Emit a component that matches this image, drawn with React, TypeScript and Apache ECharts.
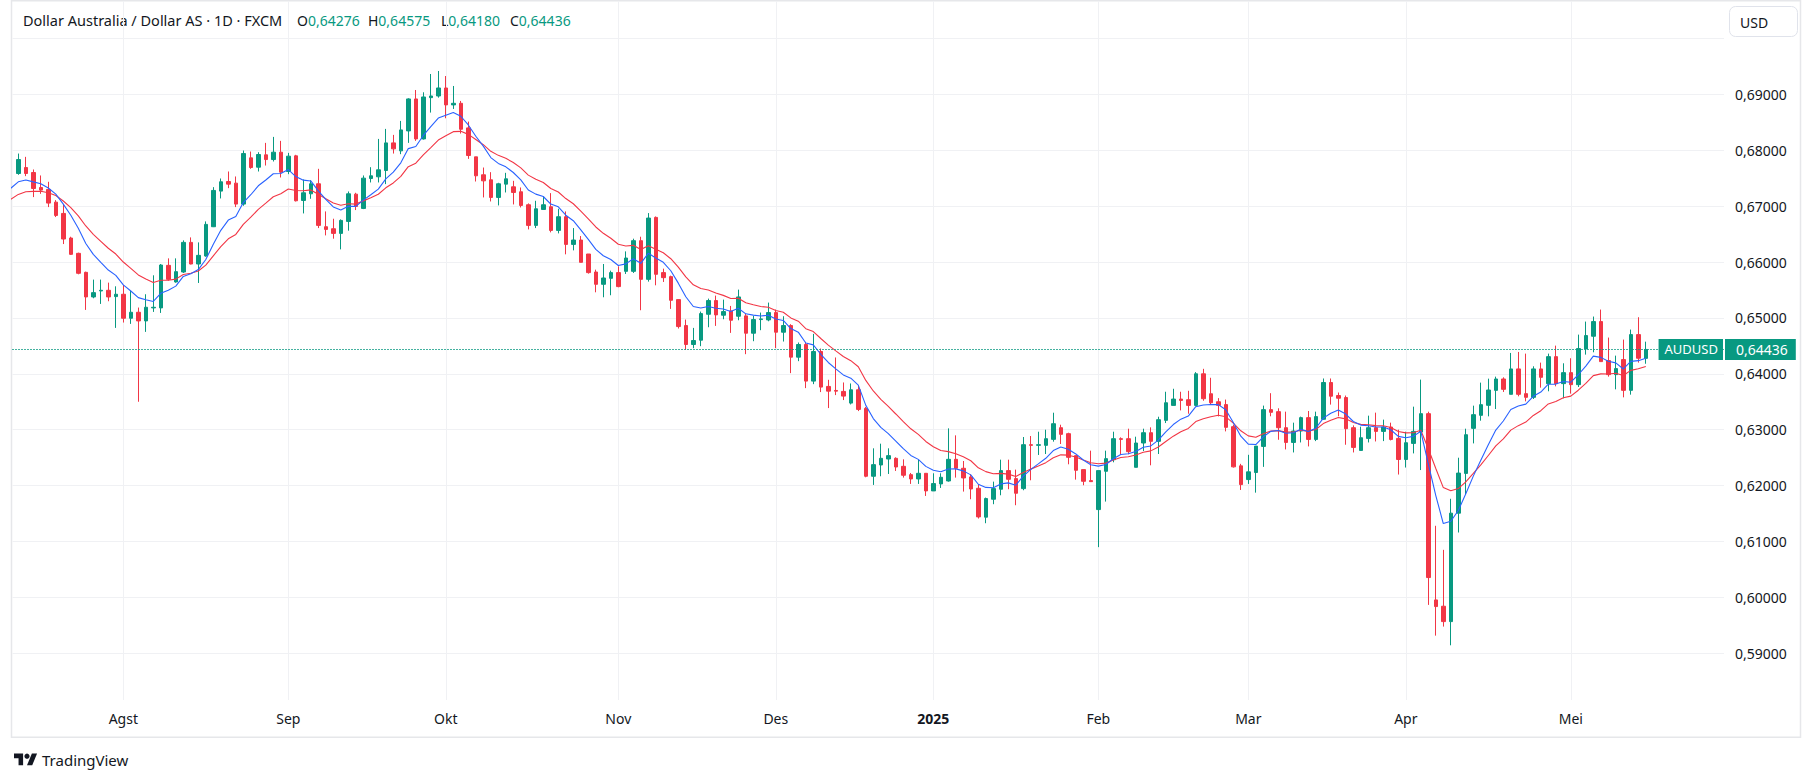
import React, { useEffect, useRef } from 'react';
import * as echarts from 'echarts';

// ---------------- data ----------------
const tradingDays: [string, number[]][] = [
  ['2024-07', [12, 15, 16, 17, 18, 19, 22, 23, 24, 25, 26, 29, 30, 31]],
  ['2024-08', [1, 2, 5, 6, 7, 8, 9, 12, 13, 14, 15, 16, 19, 20, 21, 22, 23, 26, 27, 28, 29, 30]],
  ['2024-09', [2, 3, 4, 5, 6, 9, 10, 11, 12, 13, 16, 17, 18, 19, 20, 23, 24, 25, 26, 27, 30]],
  ['2024-10', [1, 2, 3, 4, 7, 8, 9, 10, 11, 14, 15, 16, 17, 18, 21, 22, 23, 24, 25, 28, 29, 30, 31]],
  ['2024-11', [1, 4, 5, 6, 7, 8, 11, 12, 13, 14, 15, 18, 19, 20, 21, 22, 25, 26, 27, 28, 29]],
  ['2024-12', [2, 3, 4, 5, 6, 9, 10, 11, 12, 13, 16, 17, 18, 19, 20, 23, 24, 26, 27, 30, 31]],
  ['2025-01', [2, 3, 6, 7, 8, 9, 10, 13, 14, 15, 16, 17, 20, 21, 22, 23, 24, 27, 28, 29, 30, 31]],
  ['2025-02', [3, 4, 5, 6, 7, 10, 11, 12, 13, 14, 17, 18, 19, 20, 21, 24, 25, 26, 27, 28]],
  ['2025-03', [3, 4, 5, 6, 7, 10, 11, 12, 13, 14, 17, 18, 19, 20, 21, 24, 25, 26, 27, 28, 31]],
  ['2025-04', [1, 2, 3, 4, 7, 8, 9, 10, 11, 14, 15, 16, 17, 18, 21, 22, 23, 24, 25, 28, 29, 30]],
  ['2025-05', [1, 2, 5, 6, 7, 8, 9, 12, 13, 14, 15]],
];

const opens = [
  0.67583, 0.67690, 0.67601, 0.67333, 0.67298, 0.67071, 0.66869, 0.66429, 0.66155, 0.65815,
  0.65375, 0.65482, 0.65494, 0.65381, 0.65423, 0.64994, 0.65101, 0.64946, 0.65179, 0.65179,
  0.65940, 0.65643, 0.65821, 0.66351, 0.65964, 0.66107, 0.66631, 0.67268, 0.67440, 0.67411,
  0.67036, 0.67863, 0.67696, 0.67917, 0.67833, 0.67964, 0.67619, 0.67899, 0.67101, 0.67220,
  0.67399, 0.66631, 0.66595, 0.66512, 0.66726, 0.67214, 0.66958, 0.67494, 0.67524, 0.67637,
  0.68131, 0.67988, 0.68345, 0.68917, 0.68202, 0.68940, 0.68970, 0.69113, 0.68810, 0.68839,
  0.68399, 0.67881, 0.67560, 0.67470, 0.67155, 0.67393, 0.67345, 0.67256, 0.67024, 0.66655,
  0.66940, 0.66988, 0.66565, 0.66810, 0.66315, 0.66393, 0.66143, 0.65821, 0.65601, 0.65708,
  0.65810, 0.65833, 0.65833, 0.66381, 0.65690, 0.66798, 0.65810, 0.65738, 0.65327, 0.64863,
  0.64524, 0.64601, 0.65065, 0.65310, 0.65048, 0.65125, 0.65030, 0.65036, 0.64726, 0.64970,
  0.64964, 0.65095, 0.64744, 0.64863, 0.64298, 0.64524, 0.63869, 0.64399, 0.63774, 0.63702,
  0.63685, 0.63476, 0.63714, 0.63381, 0.62167, 0.62369, 0.62476, 0.62488, 0.62345, 0.62196,
  0.62119, 0.62220, 0.61905, 0.62030, 0.62083, 0.62470, 0.62310, 0.62155, 0.61952, 0.61435,
  0.61756, 0.61935, 0.62268, 0.62125, 0.61946, 0.62732, 0.62720, 0.62720, 0.62827, 0.63036,
  0.62929, 0.62536, 0.62286, 0.62089, 0.61571, 0.62256, 0.62464, 0.62839, 0.62839, 0.62327,
  0.62762, 0.62946, 0.62792, 0.63167, 0.63435, 0.63548, 0.63536, 0.63435, 0.64000, 0.63643,
  0.63500, 0.63449, 0.63054, 0.62353, 0.62108, 0.62234, 0.62701, 0.63359, 0.63323, 0.63036,
  0.62772, 0.62976, 0.63216, 0.62826, 0.63186, 0.63844, 0.63611, 0.63575, 0.63036, 0.62629,
  0.62844, 0.63036, 0.62970, 0.63048, 0.62844, 0.62467, 0.62755, 0.62958, 0.63287, 0.59955,
  0.59842, 0.59567, 0.61507, 0.62218, 0.63024, 0.63257, 0.63436, 0.63704, 0.63907, 0.63633,
  0.64087, 0.63645, 0.63579, 0.64087, 0.63824, 0.64307, 0.63824, 0.64021, 0.63806, 0.64445,
  0.64672, 0.64934, 0.64236, 0.63985, 0.64254, 0.63704, 0.64701, 0.64276,
];

const highs = [
  0.67940, 0.67881, 0.67655, 0.67548, 0.67435, 0.67107, 0.67036, 0.66452, 0.66167, 0.65827,
  0.65685, 0.65685, 0.65631, 0.65565, 0.65589, 0.65482, 0.65185, 0.65423, 0.65762, 0.65964,
  0.66065, 0.66065, 0.66387, 0.66440, 0.66351, 0.66726, 0.67339, 0.67494, 0.67619, 0.67530,
  0.67994, 0.67976, 0.67964, 0.68131, 0.68238, 0.68167, 0.67952, 0.67917, 0.67476, 0.67464,
  0.67667, 0.66905, 0.66774, 0.66762, 0.67262, 0.67238, 0.67548, 0.67696, 0.68202, 0.68381,
  0.68274, 0.68524, 0.68929, 0.69077, 0.69036, 0.69363, 0.69417, 0.69327, 0.69149, 0.68881,
  0.68512, 0.67881, 0.67690, 0.67607, 0.67417, 0.67595, 0.67452, 0.67333, 0.67048, 0.67095,
  0.67167, 0.67232, 0.66952, 0.66905, 0.66607, 0.66464, 0.66143, 0.65863, 0.65964, 0.65845,
  0.65923, 0.66190, 0.66417, 0.66452, 0.66875, 0.66815, 0.65881, 0.65756, 0.65327, 0.64970,
  0.64821, 0.65113, 0.65345, 0.65399, 0.65327, 0.65214, 0.65506, 0.65071, 0.65036, 0.65095,
  0.65274, 0.65149, 0.65030, 0.64887, 0.64560, 0.64571, 0.64714, 0.64452, 0.63893, 0.64292,
  0.63845, 0.63827, 0.63792, 0.63405, 0.62667, 0.62750, 0.62667, 0.62506, 0.62470, 0.62226,
  0.62458, 0.62220, 0.62220, 0.62220, 0.63024, 0.62899, 0.62440, 0.62202, 0.62024, 0.61786,
  0.62071, 0.62464, 0.62464, 0.62286, 0.62869, 0.62887, 0.62964, 0.63000, 0.63304, 0.63089,
  0.62946, 0.62536, 0.62286, 0.62625, 0.62268, 0.62625, 0.62964, 0.62863, 0.63018, 0.62875,
  0.63018, 0.63042, 0.63232, 0.63679, 0.63732, 0.63679, 0.63696, 0.64030, 0.64089, 0.63929,
  0.63565, 0.63539, 0.63090, 0.62389, 0.62551, 0.62707, 0.63431, 0.63653, 0.63383, 0.63323,
  0.63126, 0.63234, 0.63335, 0.63323, 0.63916, 0.63916, 0.63665, 0.63611, 0.63078, 0.63054,
  0.63251, 0.63305, 0.63180, 0.63126, 0.63000, 0.62964, 0.63412, 0.63896, 0.63322, 0.61281,
  0.60851, 0.61764, 0.62499, 0.63018, 0.63430, 0.63842, 0.63913, 0.63949, 0.63937, 0.64373,
  0.64391, 0.64361, 0.64134, 0.64200, 0.64361, 0.64504, 0.64188, 0.64278, 0.64701, 0.64934,
  0.65024, 0.65149, 0.64648, 0.64325, 0.64612, 0.64791, 0.65012, 0.64575,
];

const lows = [
  0.67560, 0.67536, 0.67161, 0.67220, 0.66982, 0.66804, 0.66321, 0.66125, 0.65780, 0.65143,
  0.65351, 0.65250, 0.65298, 0.64821, 0.64917, 0.64893, 0.63500, 0.64750, 0.65107, 0.65089,
  0.65667, 0.65631, 0.65804, 0.65958, 0.65625, 0.66095, 0.66625, 0.67137, 0.67321, 0.66982,
  0.67006, 0.67667, 0.67619, 0.67726, 0.67798, 0.67512, 0.67571, 0.67083, 0.66869, 0.67131,
  0.66607, 0.66476, 0.66417, 0.66226, 0.66560, 0.66929, 0.66946, 0.67423, 0.67423, 0.67393,
  0.67940, 0.67929, 0.68131, 0.68167, 0.68190, 0.68673, 0.68940, 0.68571, 0.68738, 0.68298,
  0.67845, 0.67440, 0.67155, 0.67083, 0.67012, 0.67244, 0.67030, 0.66976, 0.66583, 0.66607,
  0.66940, 0.66530, 0.66512, 0.66137, 0.66208, 0.65994, 0.65792, 0.65458, 0.65369, 0.65405,
  0.65548, 0.65786, 0.65804, 0.65137, 0.65649, 0.65583, 0.65643, 0.65161, 0.64810, 0.64429,
  0.64458, 0.64494, 0.64833, 0.64857, 0.64976, 0.64732, 0.64958, 0.64351, 0.64583, 0.64780,
  0.64940, 0.64458, 0.64577, 0.64012, 0.64226, 0.63744, 0.63815, 0.63673, 0.63387, 0.63619,
  0.63530, 0.63452, 0.63333, 0.62149, 0.62012, 0.62167, 0.62208, 0.62262, 0.62143, 0.62030,
  0.62030, 0.61815, 0.61905, 0.61958, 0.62071, 0.62143, 0.61893, 0.61756, 0.61411, 0.61327,
  0.61667, 0.61827, 0.61935, 0.61649, 0.61917, 0.62095, 0.62548, 0.62565, 0.62786, 0.62744,
  0.62381, 0.62107, 0.62006, 0.62071, 0.60899, 0.61714, 0.62417, 0.62548, 0.62560, 0.62327,
  0.62619, 0.62363, 0.62565, 0.63119, 0.63435, 0.63345, 0.63286, 0.63417, 0.63518, 0.63452,
  0.63238, 0.62970, 0.62323, 0.61922, 0.62030, 0.61874, 0.62335, 0.63240, 0.62820, 0.62647,
  0.62593, 0.62772, 0.62701, 0.62796, 0.63180, 0.63449, 0.63240, 0.62731, 0.62593, 0.62629,
  0.62772, 0.62790, 0.62796, 0.62808, 0.62198, 0.62323, 0.62576, 0.62278, 0.59866, 0.59316,
  0.59478, 0.59143, 0.61161, 0.61836, 0.62755, 0.63161, 0.63239, 0.63370, 0.63675, 0.63633,
  0.63597, 0.63507, 0.63549, 0.63752, 0.63687, 0.63776, 0.63561, 0.63645, 0.63764, 0.64343,
  0.64385, 0.64218, 0.63949, 0.63722, 0.63579, 0.63627, 0.64200, 0.64180,
];

const closes = [
  0.67833, 0.67583, 0.67315, 0.67286, 0.67054, 0.66833, 0.66411, 0.66137, 0.65798, 0.65375,
  0.65452, 0.65494, 0.65375, 0.65423, 0.64994, 0.65101, 0.64946, 0.65190, 0.65190, 0.65946,
  0.65690, 0.65827, 0.66351, 0.65964, 0.66119, 0.66673, 0.67280, 0.67435, 0.67393, 0.67036,
  0.67940, 0.67690, 0.67923, 0.67833, 0.67964, 0.67607, 0.67893, 0.67095, 0.67238, 0.67399,
  0.66655, 0.66583, 0.66512, 0.66744, 0.67220, 0.66994, 0.67500, 0.67542, 0.67649, 0.68131,
  0.68024, 0.68363, 0.68917, 0.68202, 0.68952, 0.68970, 0.69113, 0.68810, 0.68839, 0.68375,
  0.67905, 0.67542, 0.67452, 0.67155, 0.67399, 0.67488, 0.67244, 0.67012, 0.66655, 0.66952,
  0.67024, 0.66565, 0.66810, 0.66315, 0.66393, 0.65994, 0.65810, 0.65601, 0.65714, 0.65810,
  0.65560, 0.66071, 0.66381, 0.65690, 0.66786, 0.65780, 0.65720, 0.65315, 0.64845, 0.64524,
  0.64595, 0.65077, 0.65310, 0.65054, 0.65113, 0.64958, 0.65375, 0.64726, 0.64970, 0.64982,
  0.65095, 0.64744, 0.64863, 0.64298, 0.64524, 0.63869, 0.64399, 0.63762, 0.63690, 0.63690,
  0.63601, 0.63714, 0.63363, 0.62167, 0.62375, 0.62488, 0.62536, 0.62333, 0.62185, 0.62119,
  0.62220, 0.61905, 0.62036, 0.62149, 0.62470, 0.62310, 0.62137, 0.61940, 0.61440, 0.61768,
  0.61946, 0.62268, 0.62113, 0.61863, 0.62732, 0.62720, 0.62732, 0.62839, 0.63107, 0.62917,
  0.62506, 0.62274, 0.62077, 0.62071, 0.62268, 0.62482, 0.62839, 0.62827, 0.62607, 0.62762,
  0.62946, 0.62792, 0.63179, 0.63482, 0.63548, 0.63524, 0.63435, 0.64000, 0.63554, 0.63482,
  0.63435, 0.63042, 0.62335, 0.62018, 0.62246, 0.62707, 0.63359, 0.63311, 0.63036, 0.62772,
  0.62976, 0.63216, 0.62826, 0.63234, 0.63844, 0.63599, 0.63563, 0.63018, 0.62683, 0.62856,
  0.63036, 0.62970, 0.63048, 0.62826, 0.62467, 0.62767, 0.62970, 0.63287, 0.60355, 0.59836,
  0.59567, 0.61507, 0.62224, 0.62910, 0.63269, 0.63448, 0.63710, 0.63907, 0.63722, 0.64087,
  0.63633, 0.63579, 0.64087, 0.63937, 0.64307, 0.63824, 0.64021, 0.63806, 0.64451, 0.64684,
  0.64934, 0.64218, 0.63985, 0.64093, 0.63704, 0.64701, 0.64278, 0.64436,
];

const priceGridValues = [0.59, 0.6, 0.61, 0.62, 0.63, 0.64, 0.65, 0.66, 0.67, 0.68, 0.69, 0.7];
const priceLabelValues = [0.59, 0.6, 0.61, 0.62, 0.63, 0.64, 0.65, 0.66, 0.67, 0.68, 0.69];
const monthShort: Record<string, string> = {
  '01': 'Jan', '02': 'Feb', '03': 'Mar', '04': 'Apr', '05': 'Mei', '06': 'Jun',
  '07': 'Jul', '08': 'Agst', '09': 'Sep', '10': 'Okt', '11': 'Nov', '12': 'Des',
};
const symbolName = 'AUDUSD';
const titleText = 'Dollar Australia / Dollar AS · 1D · FXCM';
const ohlcKeys = ['O', 'H', 'L', 'C'];
const currencyText = 'USD';
const brandText = 'TradingView';

// moving averages: period and the indicator value on the day before the first candle
const emaFast = { period: 8, prev: 0.6732 };
const emaSlow = { period: 15, prev: 0.6712 };

// ---------------- styling / layout ----------------
const W = 1813;
const H = 782;
const FONT = "'Noto Sans', 'DejaVu Sans', sans-serif";
const UP = '#089981';
const DOWN = '#F23645';
const BLUE = '#2962FF';
const TEXT = '#131722';
const GRID = '#F0F1F4';
const FRAME = '#E6E7EA';
const PANE_LEFT = 12.5;
const PANE_RIGHT = 1724;
const PANE_TOP = 1;
const PANE_BOTTOM = 700;
const BAR_STEP = 7.5; // px between candles
const FIRST_BAR_X = 18.3; // px of first candle
const PX_PER_UNIT = 5590; // px per 1.0 price
const REF_PRICE = 0.59;
const REF_PRICE_Y = 653.3;

const xMin = 1 + (PANE_LEFT - FIRST_BAR_X) / BAR_STEP;
const xMax = 1 + (PANE_RIGHT - FIRST_BAR_X) / BAR_STEP;
const yMax = REF_PRICE + (REF_PRICE_Y - PANE_TOP) / PX_PER_UNIT;
const yMin = REF_PRICE - (PANE_BOTTOM - REF_PRICE_Y) / PX_PER_UNIT;

// ---------------- derived ----------------
const dates: string[] = tradingDays.flatMap(([ym, days]) =>
  days.map((d) => `${ym}-${String(d).padStart(2, '0')}`)
);
const candleData = dates.map((_, i) => [i + 1, opens[i], closes[i], lows[i], highs[i]]);

function emaLine(period: number, prev: number): number[][] {
  const k = 2 / (period + 1);
  let e = prev;
  const out: number[][] = [[0, prev]];
  closes.forEach((c, i) => {
    e = e + k * (c - e);
    out.push([i + 1, e]);
  });
  return out;
}

const monthTicks: number[] = [];
const monthLabel: Record<number, string> = {};
dates.forEach((d, i) => {
  if (i === 0) return;
  const m = d.slice(5, 7);
  if (m !== dates[i - 1].slice(5, 7)) {
    const x = i + 1;
    monthTicks.push(x);
    monthLabel[x] = m === '01' ? `{y|${d.slice(0, 4)}}` : monthShort[m];
  }
});

const fmt = (v: number) => v.toFixed(5).replace('.', ',');
const last = closes.length - 1;
const lastOhlc = [opens[last], highs[last], lows[last], closes[last]];
const lastColor = closes[last] >= opens[last] ? UP : DOWN;
const ohlcX = [297, 368, 441, 510];

function buildOption(): any {
  const graphic: any[] = [
    {
      type: 'rect',
      silent: true,
      z: -10,
      shape: { x: 11.5, y: 0.75, width: 1789, height: 736.5 },
      style: { fill: 'none', stroke: FRAME, lineWidth: 1.5 },
    },
    {
      type: 'text',
      x: 23,
      y: 20,
      silent: true,
      style: { text: titleText, fill: TEXT, fontSize: 14.5, fontFamily: FONT, verticalAlign: 'middle' },
    },
    ...ohlcKeys.map((k, i) => ({
      type: 'text',
      x: ohlcX[i],
      y: 20,
      silent: true,
      style: {
        text: `{k|${k}}{v|${fmt(lastOhlc[i])}}`,
        fontSize: 14,
        fontFamily: FONT,
        verticalAlign: 'middle',
        rich: {
          k: { fill: TEXT, fontSize: 14, fontFamily: FONT },
          v: { fill: lastColor, fontSize: 14, fontFamily: FONT },
        },
      },
    })),
    {
      type: 'rect',
      silent: true,
      z: 20,
      shape: { x: 1729.5, y: 6.5, width: 68, height: 30, r: 6 },
      style: { fill: '#ffffff', stroke: '#E0E3EB', lineWidth: 1 },
    },
    {
      type: 'text',
      x: 1740,
      y: 22,
      z: 21,
      silent: true,
      style: { text: currencyText, fill: TEXT, fontSize: 14, fontFamily: FONT, verticalAlign: 'middle' },
    },
    {
      type: 'group',
      x: 14,
      y: 751,
      scaleX: 0.65,
      scaleY: 0.65,
      silent: true,
      children: [
        { type: 'polygon', shape: { points: [[14, 22], [7, 22], [7, 11], [0, 11], [0, 4], [14, 4]] }, style: { fill: TEXT } },
        { type: 'polygon', shape: { points: [[28, 22], [20, 22], [27.5, 4], [35.5, 4]] }, style: { fill: TEXT } },
        { type: 'circle', shape: { cx: 20, cy: 8, r: 4 }, style: { fill: TEXT } },
      ],
    },
    {
      type: 'text',
      x: 42,
      y: 760,
      silent: true,
      style: { text: brandText, fill: TEXT, fontSize: 15, fontFamily: FONT, verticalAlign: 'middle' },
    },
  ];

  const priceLabelCommon = {
    show: true,
    distance: 1,
    backgroundColor: lastColor,
    color: '#ffffff',
    fontFamily: FONT,
    opacity: 1,
  };

  return {
    animation: false,
    textStyle: { fontFamily: FONT },
    grid: {
      left: PANE_LEFT,
      right: W - PANE_RIGHT,
      top: PANE_TOP,
      bottom: H - PANE_BOTTOM,
      containLabel: false,
      outerBoundsMode: 'none',
    },
    xAxis: {
      type: 'value',
      min: xMin,
      max: xMax,
      axisLine: { show: false },
      axisTick: { show: false, customValues: monthTicks },
      axisLabel: {
        customValues: monthTicks,
        formatter: (v: number) => monthLabel[Math.round(v)] ?? '',
        color: TEXT,
        fontSize: 14,
        fontFamily: FONT,
        margin: 11,
        rich: { y: { fontWeight: 'bold', fontSize: 14, color: TEXT, fontFamily: FONT } },
      },
      splitLine: { show: true, lineStyle: { color: GRID, width: 1 } },
    },
    yAxis: {
      type: 'value',
      position: 'right',
      min: yMin,
      max: yMax,
      axisLine: { show: false },
      axisTick: { show: false, customValues: priceGridValues },
      axisLabel: {
        customValues: priceLabelValues,
        formatter: (v: number) => fmt(v),
        color: TEXT,
        fontSize: 14,
        fontFamily: FONT,
        margin: 11,
        align: 'left',
      },
      splitLine: { show: true, lineStyle: { color: GRID, width: 1 } },
    },
    series: [
      {
        type: 'candlestick',
        data: candleData,
        barWidth: 4,
        z: 2,
        itemStyle: {
          color: UP,
          color0: DOWN,
          borderColor: UP,
          borderColor0: DOWN,
          borderWidth: 1,
        },
        emphasis: { disabled: true },
        markLine: {
          silent: true,
          precision: 5,
          symbol: ['none', 'none'],
          animation: false,
          lineStyle: { color: lastColor, type: [1, 2], width: 1 },
          emphasis: { disabled: true },
          data: [
            {
              yAxis: closes[last],
              label: {
                ...priceLabelCommon,
                position: 'end',
                formatter: fmt(closes[last]),
                fontSize: 14,
                padding: [4, 8, 3, 11],
              },
            },
            {
              yAxis: closes[last],
              label: {
                ...priceLabelCommon,
                position: 'insideEnd',
                formatter: symbolName,
                fontSize: 13,
                padding: [4, 5, 4, 6],
              },
            },
          ],
        },
      },
      {
        type: 'line',
        data: emaLine(emaSlow.period, emaSlow.prev),
        showSymbol: false,
        symbol: 'none',
        z: 3,
        lineStyle: { color: DOWN, width: 1.1 },
        emphasis: { disabled: true },
      },
      {
        type: 'line',
        data: emaLine(emaFast.period, emaFast.prev),
        showSymbol: false,
        symbol: 'none',
        z: 4,
        lineStyle: { color: BLUE, width: 1.1 },
        emphasis: { disabled: true },
      },
    ],
    graphic,
  };
}

export default function App() {
  const ref = useRef<HTMLDivElement>(null);
  useEffect(() => {
    if (!ref.current) return;
    const chart = echarts.init(ref.current, undefined, { renderer: 'svg', width: W, height: H });
    chart.setOption(buildOption());
    return () => chart.dispose();
  }, []);
  return (
    <div
      ref={ref}
      style={{ position: 'absolute', left: 0, top: 0, width: W, height: H, background: '#ffffff' }}
    />
  );
}
